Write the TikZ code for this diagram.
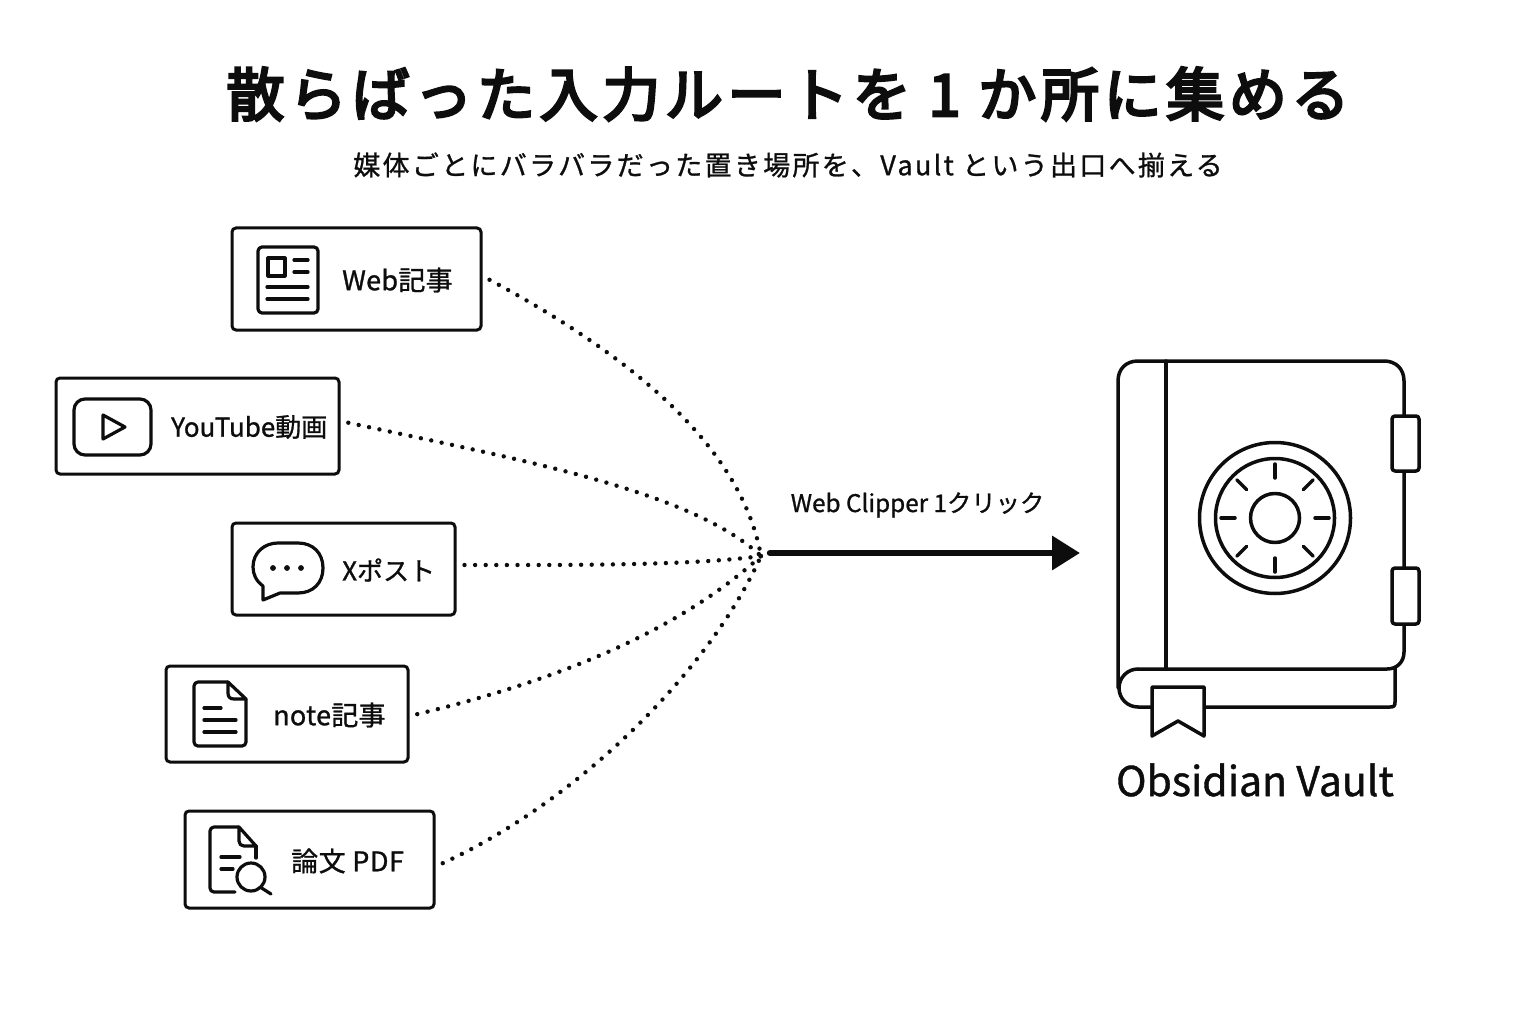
\documentclass[tikz,border=0pt]{standalone}
\usepackage{fontspec}
\setmainfont[FakeBold=1.0]{Noto Sans CJK JP}
\newfontfamily\titlefont[FakeBold=4.5,LetterSpace=8]{Noto Sans CJK JP}
\usetikzlibrary{arrows.meta}
\definecolor{ink}{HTML}{0D0D0D}
\tikzset{
  srcbox/.style={draw=ink,line width=3pt,rounded corners=4pt,fill=white,inner sep=0pt},
  ico/.style={draw=ink,line width=3.2pt,line cap=round,line join=round},
  safe/.style={draw=ink,line width=3.5pt,line cap=round,line join=round},
  lab/.style={text=ink,inner sep=0pt,font=\fontsize{27}{30}\selectfont,anchor=west},
  dotline/.style={draw=ink,line width=4.4pt,line cap=round,dash pattern=on 0pt off 10.6pt,shorten <=8pt},
}
\begin{document}
\begin{tikzpicture}[x=1pt,y=-1pt]
\useasboundingbox (0,0) rectangle (1536,1024);
\node[text=ink,inner sep=0pt,font=\fontsize{58}{60}\selectfont\titlefont] (title) at (788,94) {散らばった入力ルートを 1 か所に集める};
\node[text=ink,inner sep=0pt,font=\fontsize{27}{30}\selectfont\addfontfeatures{LetterSpace=8.5}] (sub) at (788,165) {媒体ごとにバラバラだった置き場所を、Vault という出口へ揃える};
% boxes
\node[srcbox,minimum width=249pt,minimum height=102pt] (web) at (356.5,279) {};
\node[srcbox,minimum width=283pt,minimum height=96pt] (yt) at (197.5,426) {};
\node[srcbox,minimum width=223pt,minimum height=92pt] (xp) at (343.5,569) {};
\node[srcbox,minimum width=242pt,minimum height=96pt] (nt) at (287,714) {};
\node[srcbox,minimum width=249pt,minimum height=97pt] (pdf) at (309.5,859.5) {};
% labels
\node[lab,font=\fontsize{27}{30}\selectfont\addfontfeatures{LetterSpace=1}] (webl) at (342,280) {Web記事};
\node[lab,font=\fontsize{26}{30}\selectfont] (ytl) at (171,427) {YouTube動画};
\node[lab,font=\fontsize{26}{30}\selectfont] (xpl) at (342,570) {Xポスト};
\node[lab,font=\fontsize{27}{30}\selectfont\addfontfeatures{LetterSpace=1}] (ntl) at (273,715) {note記事};
\node[lab,font=\fontsize{27}{30}\selectfont\addfontfeatures{LetterSpace=2}] (pdfl) at (291,861) {論文 PDF};
% web icon
\draw[ico,rounded corners=4pt] (258,247) rectangle (318,313);
\draw[ico] (268,258) rectangle (285,276);
\draw[ico] (294,260) -- (308,260) (294,272) -- (308,272) (267,287) -- (308,287) (267,299) -- (308,299);
% youtube icon
\draw[ico,rounded corners=11pt] (74,399) rectangle (151,455);
\draw[ico] (103,415) -- (125,427) -- (103,439) -- cycle;
% bubble icon
\draw[ico] (263,586) .. controls (256,581) and (253,574) .. (253,567) .. controls (253,552) and (265,543) .. (278,543) -- (298,543) .. controls (313,543) and (323,553) .. (323,568) .. controls (323,583) and (313,593) .. (298,593) -- (280,593) -- (263,600) -- cycle;
\fill[ink] (273,568) circle (2.9) (287,568) circle (2.9) (301,568) circle (2.9);
% note icon
\draw[ico,rounded corners=4pt] (228,682) -- (194,682) -- (194,746) -- (246,746) -- (246,699);
\draw[ico] (228,682) -- (246,699) -- (234,699) .. controls (230,699) and (228,697) .. (228,693) -- cycle;
\draw[ico] (204,708) -- (221,708) (204,720) -- (236,720) (204,732) -- (236,732);
% pdf icon
\draw[ico,rounded corners=4pt] (239,827) -- (210,827) -- (210,892) -- (235,892);
\draw[ico] (239,827) -- (256,846) -- (244,846) .. controls (241,846) and (239,844) .. (239,841) -- cycle;
\draw[ico] (256,846) -- (256,858);
\draw[ico] (221,857) -- (240,857) (221,869) -- (233,869);
\draw[ico] (251,877) circle (14);
\draw[ico] (260,887) -- (271,894);
% connectors
\coordinate (hub) at (761,556);
\draw[dotline] ([yshift=3pt]web.east) .. controls (620,350) and (740,440) .. (hub);
\draw[dotline] ([yshift=5pt]yt.east) .. controls (520,460) and (690,490) .. (hub);
\draw[dotline] ([yshift=4pt]xp.east) .. controls (560,565) and (690,566) .. (hub);
\draw[dotline] ([yshift=-2pt]nt.east) .. controls (560,680) and (680,630) .. (hub);
\draw[dotline] ([yshift=-7pt]pdf.east) .. controls (580,800) and (710,670) .. (hub);
% arrow
\coordinate (astart) at (770,553);
\coordinate (aend) at (1080,553);
\draw[ink,line width=6.5pt,line cap=round,-{Triangle[length=28pt,width=33pt]}] (astart) -- (aend);
\node[text=ink,inner sep=0pt,font=\fontsize{24.3}{28}\selectfont] (alab) at (917.5,505) {Web Clipper 1クリック};
% vault
\draw[safe] (1138,669) -- (1387,669) .. controls (1397,669) and (1404,662) .. (1404,652) -- (1404,381) .. controls (1404,369) and (1396,361) .. (1384,361) -- (1138,361) .. controls (1126,361) and (1118,369) .. (1118,381) -- (1118,688);
\draw[safe] (1166,361) -- (1166,669);
\draw[safe] (1138,669) arc[start angle=-90,end angle=-270,radius=19];
\draw[safe] (1138,707) -- (1390,707) .. controls (1394,707) and (1395,706) .. (1395,702) -- (1395,668);
\draw[safe,fill=white] (1152,687) -- (1204,687) -- (1204,736) -- (1178,721) -- (1152,736) -- cycle;
\draw[safe,fill=white,rounded corners=3pt] (1392,416) rectangle (1419,471);
\draw[safe,fill=white,rounded corners=3pt] (1392,568) rectangle (1419,624);
\draw[safe] (1275,518) circle (75.5) (1275,518) circle (59.5) (1275,518) circle (24.5);
\foreach \a in {0,45,...,315}{\draw[safe] (1275,518) ++(\a:40) -- ++(\a:14);}
\node[text=ink,inner sep=0pt,font=\fontsize{41}{44}\selectfont] (vlab) at (1255,780) {Obsidian Vault};
\end{tikzpicture}
\end{document}
